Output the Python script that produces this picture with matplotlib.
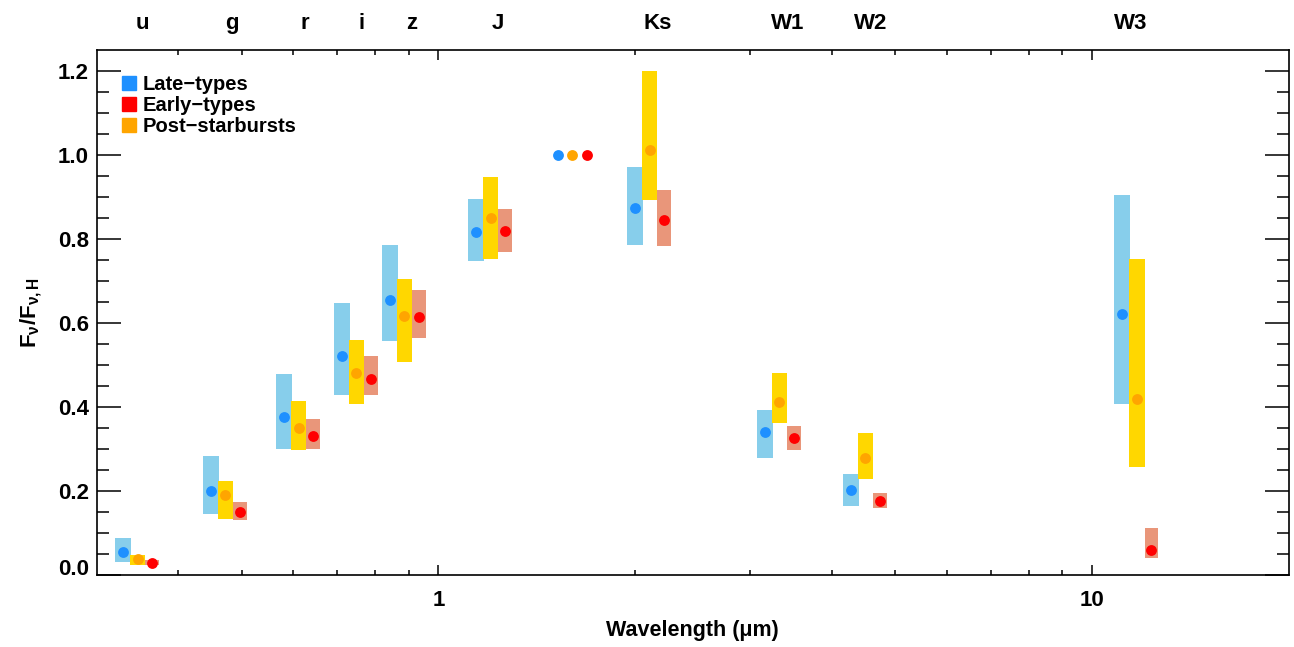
import numpy as np
import matplotlib
matplotlib.use("Agg")
import matplotlib.pyplot as plt
from matplotlib.lines import Line2D
from matplotlib.ticker import FixedLocator, NullFormatter, FormatStrFormatter

# band wavelengths (micron) of each group of bars, and where the names sit on top
bands = ['u', 'g', 'r', 'i', 'z', 'J', 'H', 'Ks', 'W1', 'W2', 'W3']
band_wave = [0.347, 0.472, 0.611, 0.749, 0.887, 1.203, 1.603, 2.106, 3.319, 4.493, 11.71]
label_bands = ['u', 'g', 'r', 'i', 'z', 'J', 'Ks', 'W1', 'W2', 'W3']
label_wave = [0.353, 0.483, 0.624, 0.762, 0.909, 1.231, 2.163, 3.416, 4.58, 11.46]

# median, lower and upper flux ratio (H band is the normalisation, no range)
late_med = [0.054, 0.201, 0.377, 0.521, 0.655, 0.817, 1.0, 0.875, 0.341, 0.202, 0.621]
late_lo = [0.032, 0.146, 0.300, 0.429, 0.558, 0.748, np.nan, 0.786, 0.279, 0.165, 0.406]
late_hi = [0.088, 0.283, 0.479, 0.648, 0.786, 0.895, np.nan, 0.971, 0.393, 0.240, 0.905]

psb_med = [0.038, 0.190, 0.351, 0.480, 0.617, 0.850, 1.0, 1.012, 0.412, 0.279, 0.420]
psb_lo = [0.024, 0.133, 0.298, 0.407, 0.508, 0.752, np.nan, 0.894, 0.363, 0.229, 0.258]
psb_hi = [0.048, 0.224, 0.414, 0.560, 0.705, 0.948, np.nan, 1.200, 0.481, 0.338, 0.752]

early_med = [0.028, 0.149, 0.330, 0.467, 0.614, 0.818, 1.0, 0.845, 0.325, 0.177, 0.060]
early_lo = [0.024, 0.131, 0.300, 0.429, 0.565, 0.770, np.nan, 0.784, 0.298, 0.160, 0.041]
early_hi = [0.036, 0.174, 0.371, 0.521, 0.679, 0.871, np.nan, 0.917, 0.355, 0.195, 0.112]

plt.rcParams['font.family'] = ['Liberation Sans', 'DejaVu Sans']
plt.rcParams['font.weight'] = 'bold'
plt.rcParams['mathtext.fontset'] = 'custom'
plt.rcParams['mathtext.rm'] = 'Liberation Sans:bold'
plt.rcParams['mathtext.it'] = 'Liberation Sans:bold'
plt.rcParams['mathtext.bf'] = 'Liberation Sans:bold'

fig = plt.figure(figsize=(12.94, 6.47), dpi=100)
ax = fig.add_axes([0.0747, 0.1113, 0.9214, 0.8114])
ax.set_xscale('log')

logw = np.log10(band_wave)
groups = [
    # offset (dex), width (dex), bar colour, point colour, data
    (-0.0222, 0.0245, '#87CEEB', '#1E90FF', late_med, late_lo, late_hi),
    (0.0, 0.0230, '#FFD700', '#FFA500', psb_med, psb_lo, psb_hi),
    (0.0222, 0.0214, '#E9967A', '#FF0000', early_med, early_lo, early_hi),
]

for off, w, bcol, _, med, lo, hi in groups:
    lo = np.array(lo)
    hi = np.array(hi)
    ok = ~np.isnan(lo)
    left = 10 ** (logw + off - w / 2)
    right = 10 ** (logw + off + w / 2)
    ax.bar(left[ok], (hi - lo)[ok], width=(right - left)[ok], bottom=lo[ok],
           align='edge', color=bcol, linewidth=0, zorder=2)

for off, w, _, pcol, med, lo, hi in groups:
    ax.plot(10 ** (logw + off), med, 'o', color=pcol, markersize=7.8,
            markeredgewidth=0, zorder=3)

ax.set_xlim(0.3, 20)
ax.set_ylim(0, 1.25)

ax.xaxis.set_major_locator(FixedLocator([1, 10]))
ax.xaxis.set_major_formatter(FormatStrFormatter('%d'))
ax.xaxis.set_minor_locator(FixedLocator([0.4, 0.5, 0.6, 0.7, 0.8, 0.9,
                                         2, 3, 4, 5, 6, 7, 8, 9]))
ax.xaxis.set_minor_formatter(NullFormatter())
ax.yaxis.set_major_locator(FixedLocator([0.0, 0.2, 0.4, 0.6, 0.8, 1.0, 1.2]))
ax.yaxis.set_major_formatter(FormatStrFormatter('%.1f'))
ax.yaxis.set_minor_locator(FixedLocator(np.arange(0.05, 1.25, 0.05)))

ax.tick_params(axis='both', which='both', direction='in', top=True, right=True,
               width=1.1, labelsize=16)
ax.tick_params(axis='x', which='major', length=7.2, pad=11)
ax.tick_params(axis='x', which='minor', length=3.6)
ax.tick_params(axis='y', which='major', length=17.3, pad=5.5)
ax.tick_params(axis='y', which='minor', length=8.6)
for s in ax.spines.values():
    s.set_linewidth(1.2)

# the 0.0 label sits a little above its tick, as in the original
ax.yaxis.get_major_ticks()[0].label1.set_verticalalignment('baseline')

ax.set_xlabel('Wavelength (\u03bcm)', fontsize=15.5, fontweight='bold', labelpad=6)
ax.set_ylabel(r'F$_\nu$/F$_{\nu,H}$', fontsize=16, fontweight='bold', labelpad=10)

# band names above the plot
for name, wv in zip(label_bands, label_wave):
    ax.text(wv, 1.05, name, transform=ax.get_xaxis_transform(), ha='center',
            va='center', fontsize=16, fontweight='bold')

handles = [Line2D([], [], marker='s', ls='none', color=c, markersize=10.5)
           for c in ['#1E90FF', '#FF0000', '#FFA500']]
ax.legend(handles, ['Late\u2212types', 'Early\u2212types', 'Post\u2212starbursts'],
          loc='upper left', bbox_to_anchor=(0.0204, 0.952), frameon=False,
          handlelength=0.75, handletextpad=0.3, labelspacing=0.1,
          borderpad=0, borderaxespad=0, prop={'weight': 'bold', 'size': 14.5})

fig.savefig('out.png', dpi=100)
